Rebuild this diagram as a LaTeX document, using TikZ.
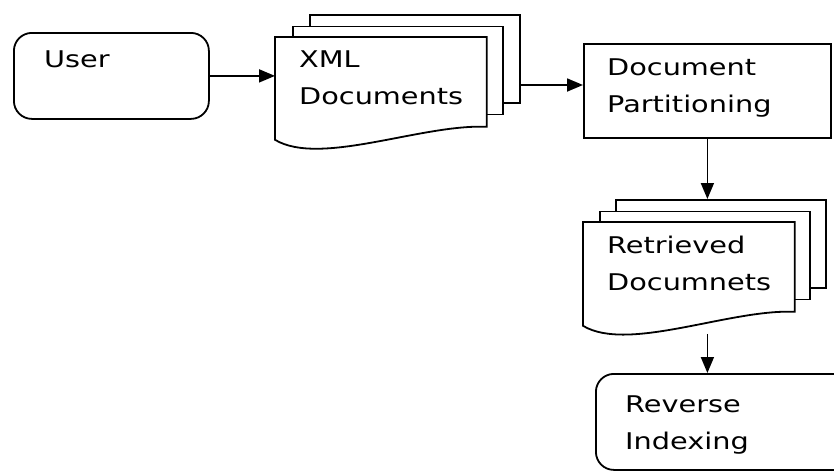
\documentclass[tikz,border=0pt]{standalone}
\usepackage{fontspec}
\newfontfamily\diagfont[FakeStretch=1.25]{DejaVu Sans}
\usetikzlibrary{arrows.meta}
\usetikzlibrary{calc}

\tikzset{
  box/.style={draw, line width=1.8pt, anchor=north west, inner sep=0},
  rbox/.style={box, rounded corners=18pt},
  page/.style={box, fill=white, minimum width=210pt, minimum height=88pt},
  txt/.style={font=\diagfont\fontsize{23}{37}\selectfont, align=left, anchor=north west, inner sep=0},
  arr/.style={line width=1.8pt, -{Triangle[length=16pt,width=13pt]}}
}

\begin{document}
\begin{tikzpicture}[x=1pt,y=-1pt]
\useasboundingbox (0,0) rectangle (834,471);
% user
\node[rbox, minimum width=195pt, minimum height=86pt] (user) at (13,32) {};
\node[txt] (usertext) at ($(user.north west)+(31,19)$) {User};
% xml documents
\coordinate (xmlpos) at (275,37);
\foreach \i in {2,1} \node[page] (xml\i) at ($(xmlpos)+(17*\i,-11.5*\i)$) {};
\node[page, draw=none, fill=none] (xml0) at (xmlpos) {};
\draw[line width=1.8pt, fill=white] (xml0.south east) -- (xml0.north east) -- (xml0.north west) -- ($(xml0.south west)+(0,13)$) .. controls ($(xml0.south west)+(45,40)$) and ($(xml0.south east)+(-65,-3)$) .. (xml0.south east) -- cycle;
\node[txt] (xmltext) at ($(xml0.north west)+(24,14)$) {XML\\Documents};
% partitioning
\node[box, minimum width=247pt, minimum height=94pt] (part) at (583,43) {};
\node[txt] (parttext) at ($(part.north west)+(24,16)$) {Document\\Partitioning};
% retrieved documents
\coordinate (retpos) at (583,222);
\foreach \i in {2,1} \node[page] (ret\i) at ($(retpos)+(16*\i,-11.5*\i)$) {};
\node[page, draw=none, fill=none] (ret0) at (retpos) {};
\draw[line width=1.8pt, fill=white] (ret0.south east) -- (ret0.north east) -- (ret0.north west) -- ($(ret0.south west)+(0,14)$) .. controls ($(ret0.south west)+(45,41)$) and ($(ret0.south east)+(-65,-3)$) .. (ret0.south east) -- cycle;
\node[txt] (rettext) at ($(ret0.north west)+(24,14)$) {Retrieved\\Documnets};
% reverse indexing
\node[rbox, minimum width=262pt, minimum height=96pt] (rev) at (595,373) {};
\node[txt] (revtext) at ($(rev.north west)+(30,23)$) {Reverse\\Indexing};
% arrows
\coordinate (xmlout) at ($(xml2.north east)+(0,71)$);
\coordinate (retout) at ($(part.south |- ret0.south)+(0,22)$);
\draw[arr] (user.east) -- (user.east -| xml0.west);
\draw[arr] (xmlout) -- (xmlout -| part.west);
\draw[arr] (part.south) -- (part.south |- ret2.north);
\draw[arr] (retout) -- (retout |- rev.north);
\end{tikzpicture}
\end{document}
